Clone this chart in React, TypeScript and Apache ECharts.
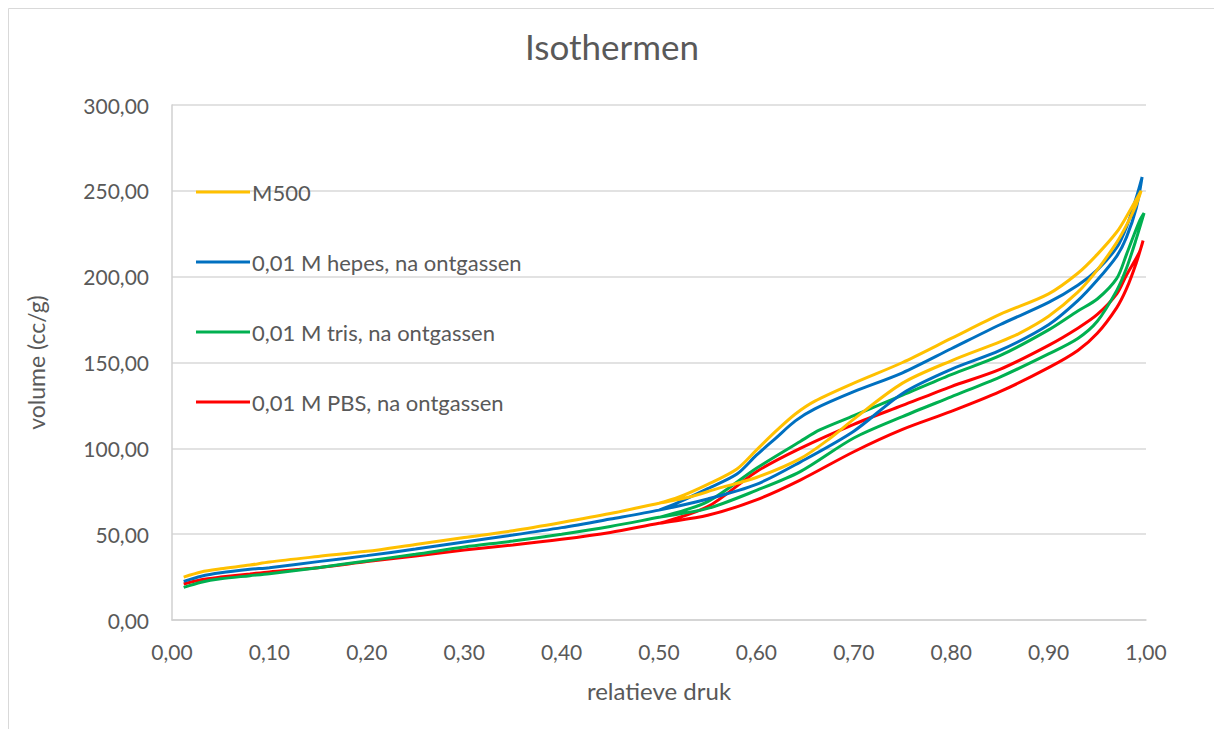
import React, { useEffect, useRef } from "react";
import * as echarts from "echarts";

const seriesNames = [
  "M500",
  "0,01 M hepes, na ontgassen",
  "0,01 M tris, na ontgassen",
  "0,01 M PBS, na ontgassen",
];
const colors = ["#FFC000", "#0070C0", "#00B050", "#FF0000"];

// M500
const m500AdsP = [0.012, 0.03, 0.05, 0.08, 0.1, 0.15, 0.2, 0.25, 0.3, 0.35, 0.4, 0.45, 0.5, 0.53, 0.56, 0.6, 0.645, 0.676, 0.7, 0.75, 0.8, 0.85, 0.87, 0.9, 0.93, 0.95, 0.97, 0.98, 0.99, 0.995];
const m500AdsV = [25, 28, 29.8, 32, 33.8, 37, 40, 44, 48, 52, 56.8, 62, 68, 71.5, 76.5, 83, 94, 106, 117, 138, 151, 162, 167, 177, 191, 204, 220, 230, 242, 250];
const m500DesP = [0.99, 0.98, 0.97, 0.95, 0.93, 0.9, 0.85, 0.8, 0.75, 0.7, 0.66, 0.64, 0.62, 0.6, 0.58, 0.55, 0.52, 0.5];
const m500DesV = [245, 235, 226, 213, 202, 190, 178, 164, 150, 138, 127.5, 120, 110, 99, 88, 79, 71.5, 68];

// hepes
const hepesAdsP = [0.012, 0.03, 0.05, 0.08, 0.1, 0.15, 0.2, 0.25, 0.3, 0.35, 0.4, 0.45, 0.5, 0.55, 0.6, 0.645, 0.7, 0.75, 0.8, 0.85, 0.9, 0.93, 0.95, 0.97, 0.98, 0.99, 0.996];
const hepesAdsV = [22.5, 25.5, 27.5, 29.5, 30.5, 34, 37.5, 41.3, 45.5, 49.5, 53.8, 58.8, 64, 70.5, 79, 92, 110, 132, 146, 157, 172, 186, 198, 212, 223, 240, 258];
const hepesDesP = [0.99, 0.98, 0.97, 0.95, 0.93, 0.9, 0.85, 0.8, 0.75, 0.7, 0.66, 0.64, 0.62, 0.6, 0.58, 0.55, 0.52, 0.5];
const hepesDesV = [246, 229, 217, 204, 195, 185, 172, 158, 144, 133, 123, 116, 106, 96, 85, 76.5, 68.5, 64];

// tris
const trisAdsP = [0.012, 0.03, 0.05, 0.08, 0.1, 0.15, 0.2, 0.25, 0.3, 0.35, 0.4, 0.45, 0.5, 0.55, 0.6, 0.645, 0.7, 0.75, 0.8, 0.85, 0.9, 0.93, 0.95, 0.97, 0.98, 0.99, 0.998];
const trisAdsV = [19, 22, 24, 25.8, 27, 30.5, 34.4, 38.3, 42.5, 46, 50, 54.5, 59.8, 65, 75.5, 86.4, 106, 118.5, 130, 141.5, 155, 164, 174, 192, 205, 222, 237];
const trisDesP = [0.993, 0.98, 0.97, 0.95, 0.93, 0.9, 0.85, 0.8, 0.75, 0.7, 0.665, 0.645, 0.6, 0.55, 0.5];
const trisDesV = [232, 213, 199, 187, 180, 169, 154, 143, 131, 119, 110.7, 104, 88.4, 69, 59.8];

// PBS
const pbsAdsP = [0.012, 0.03, 0.05, 0.08, 0.1, 0.15, 0.2, 0.25, 0.3, 0.35, 0.4, 0.45, 0.5, 0.55, 0.6, 0.645, 0.7, 0.75, 0.8, 0.85, 0.9, 0.93, 0.95, 0.97, 0.98, 0.99, 0.997];
const pbsAdsV = [21, 23.5, 25, 26.8, 28, 30.5, 34, 37.3, 40.8, 43.7, 47, 51, 56.3, 61, 70, 81.5, 98, 111, 121.5, 133, 147, 157, 167, 182, 193, 208, 221];
const pbsDesP = [0.993, 0.98, 0.97, 0.95, 0.93, 0.9, 0.85, 0.8, 0.75, 0.7, 0.645, 0.6, 0.55, 0.5];
const pbsDesV = [214, 201, 190, 178, 170, 160, 146, 136, 125, 114, 100, 86.4, 66, 56.3];

const xTicks = [0, 0.1, 0.2, 0.3, 0.4, 0.5, 0.6, 0.7, 0.8, 0.9, 1.0];
const yTicks = [0, 50, 100, 150, 200, 250, 300];

const loops = [
  [m500AdsP, m500AdsV, m500DesP, m500DesV],
  [hepesAdsP, hepesAdsV, hepesDesP, hepesDesV],
  [trisAdsP, trisAdsV, trisDesP, trisDesV],
  [pbsAdsP, pbsAdsV, pbsDesP, pbsDesV],
];

const fmt = (v: number) => v.toFixed(2).replace(".", ",");
const FONT = "Lato, 'Open Sans', sans-serif";
const TEXT = "#595959";

export default function App() {
  const ref = useRef<HTMLDivElement>(null);
  useEffect(() => {
    if (!ref.current) return;
    const chart = echarts.init(ref.current, null, { renderer: "svg" });
    const series = loops.map((l, i) => {
      const [ap, av, dp, dv] = l as number[][];
      const data: number[][] = [];
      ap.forEach((p, k) => data.push([p, av[k]]));
      dp.forEach((p, k) => data.push([p, dv[k]]));
      return {
        name: seriesNames[i],
        type: "line",
        data,
        smooth: 0.3,
        showSymbol: false,
        symbol: "none",
        lineStyle: { color: colors[i], width: 3 },
        itemStyle: { color: colors[i] },
        z: 10 - i,
      };
    });
    chart.setOption({
      animation: false,
      backgroundColor: "#ffffff",
      textStyle: { fontFamily: FONT },
      title: {
        text: "Isothermen",
        left: 525,
        top: 28,
        padding: 0,
        textStyle: { fontFamily: FONT, fontSize: 35, fontWeight: "normal", color: TEXT },
      },
      graphic: [
        {
          type: "rect",
          shape: { x: 8.5, y: 8.5, width: 1400, height: 900 },
          style: { fill: "none", stroke: "#d9d9d9", lineWidth: 1 },
          silent: true,
        },
      ],
      legend: {
        orient: "vertical",
        left: 196,
        top: 179,
        padding: 0,
        itemWidth: 54,
        itemHeight: 3,
        itemGap: 44,
        icon: "rect",
        data: seriesNames,
        textStyle: { fontFamily: FONT, fontSize: 22, color: TEXT, lineHeight: 26, padding: [0, 0, 0, -3] },
      },
      grid: { left: 172, right: 68, top: 105, bottom: 109, containLabel: false },
      xAxis: {
        type: "value",
        min: xTicks[0],
        max: xTicks[xTicks.length - 1],
        interval: 0.1,
        name: "relatieve druk",
        nameLocation: "middle",
        nameGap: 58,
        nameTextStyle: { fontFamily: FONT, fontSize: 24, color: TEXT },
        axisLine: { show: true, lineStyle: { color: "#d0d0d0", width: 1.5 } },
        axisTick: { show: false },
        splitLine: { show: false },
        axisLabel: { formatter: fmt, margin: 21, fontFamily: FONT, fontSize: 21, color: TEXT },
      },
      yAxis: {
        type: "value",
        min: yTicks[0],
        max: yTicks[yTicks.length - 1],
        interval: 50,
        name: "volume (cc/g)",
        nameLocation: "middle",
        nameGap: 125,
        nameTextStyle: { fontFamily: FONT, fontSize: 23, color: TEXT },
        axisLine: { show: true, lineStyle: { color: "#d0d0d0", width: 1.5 } },
        axisTick: { show: false },
        splitLine: { show: true, lineStyle: { color: "#d9d9d9", width: 1.5 } },
        axisLabel: { formatter: fmt, margin: 23, fontFamily: FONT, fontSize: 21, color: TEXT },
      },
      series,
    });
    return () => chart.dispose();
  }, []);
  return (
    <div
      ref={ref}
      style={{ position: "absolute", left: 0, top: 0, width: 1214, height: 729 }}
    />
  );
}
